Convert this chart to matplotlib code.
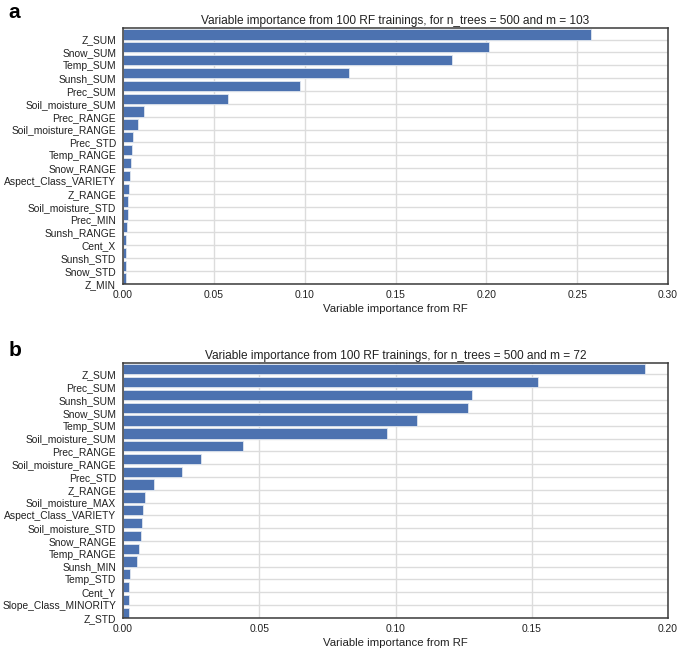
import matplotlib
matplotlib.use('Agg')
from matplotlib import pyplot as plt
import numpy as np

# panel a, top to bottom
labels_a = ['Z_SUM', 'Snow_SUM', 'Temp_SUM', 'Sunsh_SUM', 'Prec_SUM',
            'Soil_moisture_SUM', 'Prec_RANGE', 'Soil_moisture_RANGE', 'Prec_STD',
            'Temp_RANGE', 'Snow_RANGE', 'Aspect_Class_VARIETY', 'Z_RANGE',
            'Soil_moisture_STD', 'Prec_MIN', 'Sunsh_RANGE', 'Cent_X', 'Sunsh_STD',
            'Snow_STD', 'Z_MIN']
values_a = [0.2574, 0.2013, 0.1812, 0.1246, 0.0973, 0.0580, 0.0115, 0.0081, 0.0053,
            0.0050, 0.0043, 0.0041, 0.0031, 0.0029, 0.0026, 0.0024, 0.0019, 0.0019,
            0.0017, 0.0014]

# panel b, top to bottom
labels_b = ['Z_SUM', 'Prec_SUM', 'Sunsh_SUM', 'Snow_SUM', 'Temp_SUM',
            'Soil_moisture_SUM', 'Prec_RANGE', 'Soil_moisture_RANGE', 'Prec_STD',
            'Z_RANGE', 'Soil_moisture_MAX', 'Aspect_Class_VARIETY', 'Soil_moisture_STD',
            'Snow_RANGE', 'Temp_RANGE', 'Sunsh_MIN', 'Temp_STD', 'Cent_Y',
            'Slope_Class_MINORITY', 'Z_STD']
values_b = [0.1915, 0.1524, 0.1281, 0.1265, 0.1079, 0.0967, 0.0442, 0.0285, 0.0216,
            0.0112, 0.0082, 0.0072, 0.0069, 0.0067, 0.0058, 0.0050, 0.0027, 0.0022,
            0.0022, 0.0021]

plt.rcParams['font.family'] = ['Liberation Sans', 'DejaVu Sans']
bar_color = '#4C72B0'


def importance_panel(ax, labels, values, m, xmax, xticks):
    pos = np.arange(len(values))[::-1]
    ax.barh(pos, values, height=0.8, align='edge', color=bar_color,
            edgecolor='#dfe6f0', linewidth=0.6, zorder=2)
    ax.set_yticks(pos)
    ax.set_yticklabels(labels, fontsize=7.4, color='#222222')
    ax.set_xticks(xticks)
    ax.set_xticklabels(['%.2f' % t for t in xticks], fontsize=7.4, color='#222222')
    ax.set_xlim(0, xmax)
    ax.set_ylim(-0.02, len(values) - 0.1)
    ax.tick_params(length=0, pad=4)
    ax.tick_params(axis='y', pad=5)
    ax.grid(True, color='#dcdcdc', linewidth=1.0, zorder=0)
    ax.set_axisbelow(True)
    for s in ax.spines.values():
        s.set_color('#3a3a3a')
        s.set_linewidth(1.1)
    ax.set_title('Variable importance from 100 RF trainings, for n_trees = 500 and m = %d' % m,
                 fontsize=8.6, pad=3, color='#222222')
    ax.set_xlabel('Variable importance from RF', fontsize=8.2, labelpad=3, color='#222222')


fig = plt.figure(figsize=(6.85, 6.52), dpi=100)
ax1 = fig.add_axes([0.1796, 0.5644, 0.7956, 0.3926])
ax2 = fig.add_axes([0.1796, 0.0521, 0.7956, 0.3912])

importance_panel(ax1, labels_a, values_a, 103, 0.30,
                 [0.0, 0.05, 0.10, 0.15, 0.20, 0.25, 0.30])
importance_panel(ax2, labels_b, values_b, 72, 0.20,
                 [0.0, 0.05, 0.10, 0.15, 0.20])

fig.text(0.012, 0.981, 'a', fontsize=15, fontweight='bold', va='center')
fig.text(0.012, 0.462, 'b', fontsize=15, fontweight='bold', va='center')

fig.savefig('out.png', dpi=100)
